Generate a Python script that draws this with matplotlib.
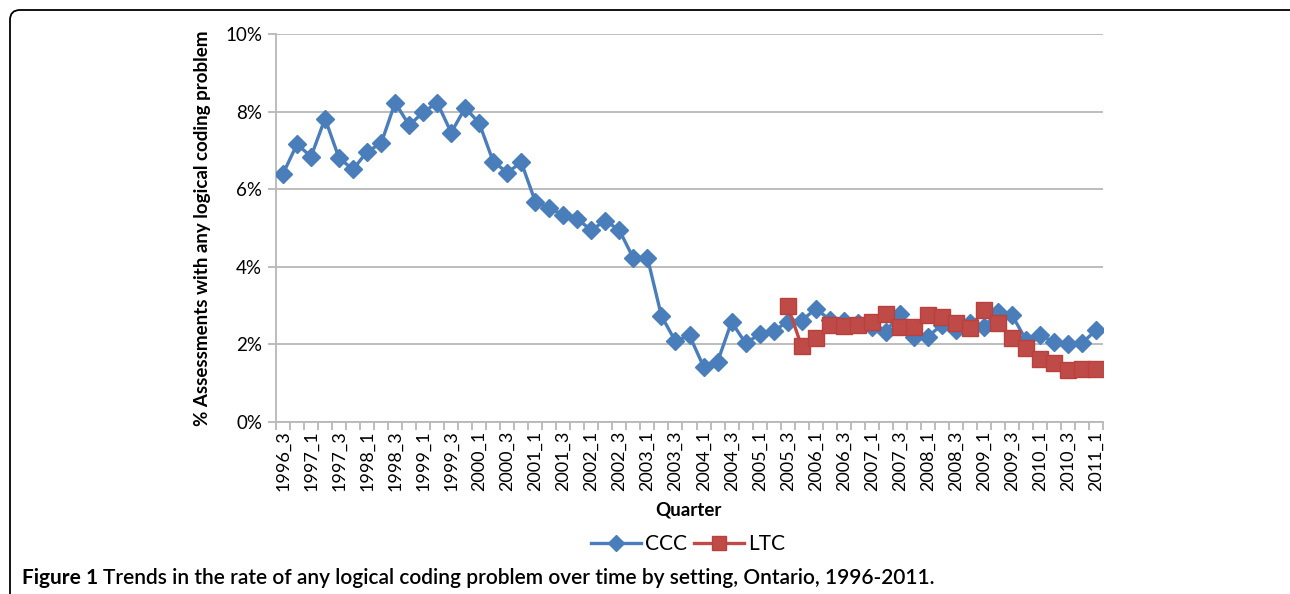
import numpy as np
import matplotlib
matplotlib.use("Agg")
import matplotlib.pyplot as plt
from matplotlib.patches import FancyBboxPatch
from matplotlib.transforms import IdentityTransform
from matplotlib.ticker import FixedLocator, PercentFormatter

plt.rcParams['font.family'] = ['Lato', 'DejaVu Sans']

# Data
quarters = [f"{y}_{q}" for y in range(1996, 2012) for q in range(1, 5)]
quarters = quarters[quarters.index("1996_3"):quarters.index("2011_1") + 1]

ccc = [6.4, 7.16, 6.84, 7.82, 6.8, 6.51, 6.97, 7.18, 8.23, 7.65,
       7.98, 8.23, 7.46, 8.1, 7.7, 6.71, 6.43, 6.69, 5.68, 5.51,
       5.34, 5.22, 4.95, 5.19, 4.94, 4.22, 4.23, 2.73, 2.08, 2.23,
       1.43, 1.55, 2.58, 2.03, 2.26, 2.35, 2.58, 2.61, 2.92, 2.64,
       2.6, 2.56, 2.46, 2.32, 2.79, 2.2, 2.2, 2.5, 2.37, 2.54,
       2.46, 2.83, 2.76, 2.12, 2.23, 2.07, 2.02, 2.03, 2.37]

ltc_start = "2005_3"
ltc = [3.0, 1.95, 2.16, 2.5, 2.48, 2.51, 2.57, 2.79, 2.46, 2.46,
       2.75, 2.71, 2.54, 2.41, 2.89, 2.54, 2.16, 1.9, 1.63, 1.51,
       1.34, 1.36, 1.36]

x = np.arange(1, len(quarters) + 1)
x_ltc = x[quarters.index(ltc_start):]

blue = '#4A7EBB'
red = '#BE4B48'
grid_col = '#B8B8B8'

fig = plt.figure(figsize=(12.9, 5.94), dpi=100)
ax = fig.add_axes([276 / 1290, 1 - 422 / 594, (1103 - 276) / 1290, (422 - 34) / 594])

ax.plot(x, ccc, color=blue, lw=2.4, marker='D', ms=9.5, mec=blue, mfc=blue, label='CCC', zorder=3)
ax.plot(x_ltc, ltc, color=red, lw=2.4, marker='s', ms=11, mec='#B9403D', mfc=red, label='LTC', zorder=4)

ax.set_xlim(0.5, len(quarters) + 0.5)
ax.set_ylim(0, 10)
ax.yaxis.set_major_locator(FixedLocator([0, 2, 4, 6, 8, 10]))
ax.yaxis.set_major_formatter(PercentFormatter(decimals=0))
ax.yaxis.grid(True, color=grid_col, lw=1.3)
ax.set_axisbelow(True)

ax.set_xticks(x[::2])
ax.set_xticklabels(quarters[::2], rotation=90, fontsize=13)
ax.set_xticks(np.arange(0.5, len(quarters) + 1), minor=True)
ax.tick_params(axis='x', which='major', length=0, pad=6)
ax.tick_params(axis='x', which='minor', length=6, color=grid_col, width=1.3)
ax.tick_params(axis='y', length=6, color=grid_col, width=1.3, labelsize=13.5, pad=4)

for s in ['top', 'right']:
    ax.spines[s].set_visible(False)
for s in ['left', 'bottom']:
    ax.spines[s].set_color(grid_col)
    ax.spines[s].set_linewidth(1.3)

ax.set_ylabel('% Assessments with any logical coding problem', fontsize=13.5, fontweight='bold', labelpad=10)
fig.text(688 / 1290, 1 - 510 / 594, 'Quarter', ha='center', va='center', fontsize=13.5, fontweight='bold')

fig.legend(loc='center', bbox_to_anchor=(688 / 1290, 1 - 544 / 594), ncol=2, frameon=False,
           fontsize=15, handlelength=2.4, columnspacing=0.3, handletextpad=0.2, markerscale=0.9)

# caption
t1 = fig.text(22 / 1290, 1 - 578 / 594, 'Figure 1', ha='left', va='center', fontsize=15, fontweight='bold')
fig.canvas.draw()
bb = t1.get_window_extent()
fig.text((bb.x1 + 5) / 1290, 1 - 578 / 594,
         'Trends in the rate of any logical coding problem over time by setting, Ontario, 1996-2011.',
         ha='left', va='center', fontsize=15, fontweight='semibold')

# border
box = FancyBboxPatch((10, -60), 1300, 594 - 10 + 60, boxstyle='round,pad=0,rounding_size=10',
                     transform=IdentityTransform(), fill=False, ec='black', lw=1.3)
fig.patches.append(box)

fig.savefig('out.png', dpi=100)
